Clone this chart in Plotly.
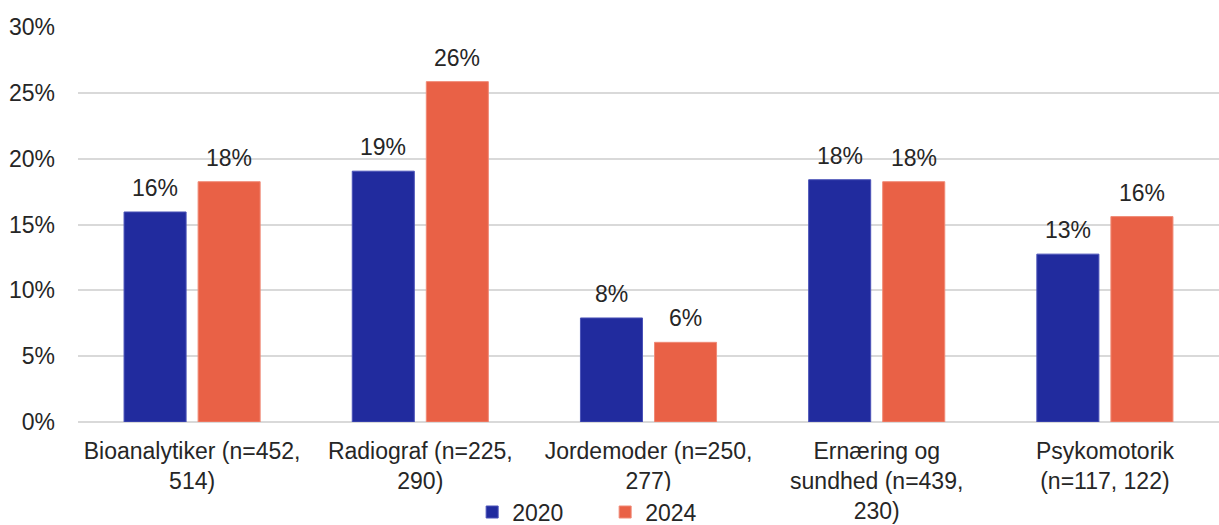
import plotly.graph_objects as go

categories = [
    "Bioanalytiker (n=452,<br>514)",
    "Radiograf (n=225,<br>290)",
    "Jordemoder (n=250,<br>277)",
    "Ernæring og<br>sundhed (n=439,<br>230)",
    "Psykomotorik<br>(n=117, 122)",
]
values_2020 = [15.95, 19.05, 7.9, 18.4, 12.75]
values_2024 = [18.25, 25.85, 6.05, 18.25, 15.6]
series_names = ["2020", "2024"]
colors = ["#212B9E", "#E96146"]
outline = ["#4a52b8", "#f08a76"]

FONT = "Liberation Sans, Arial, sans-serif"
TXT = "#262626"
FS = 23

fig = go.Figure()
shifts = [-37, 37]
for name, vals, c, oc, sh in zip(series_names, [values_2020, values_2024], colors, outline, shifts):
    fig.add_trace(go.Bar(
        x=categories, y=vals, name=name,
        marker=dict(color=c, line=dict(color=oc, width=1)),
    ))
    for cat, v in zip(categories, vals):
        fig.add_annotation(
            x=cat, y=v, xref="x", yref="y", text=f"{round(v):.0f}%",
            showarrow=False, xshift=sh, yshift=24, yanchor="middle",
            font=dict(family=FONT, size=FS, color=TXT),
        )

fig.update_layout(
    width=1219, height=525,
    margin=dict(l=78, r=0, t=27, b=103, autoexpand=False),
    paper_bgcolor="white", plot_bgcolor="white",
    barmode="group", bargap=0.351, bargroupgap=0.162,
    font=dict(family=FONT, size=FS, color=TXT),
    showlegend=True,
    legend=dict(orientation="h", x=0.462, xanchor="center", y=-0.228, yanchor="middle",
                font=dict(family=FONT, size=FS, color=TXT),
                entrywidth=88, entrywidthmode="pixels", itemwidth=30,
                traceorder="normal", borderwidth=0),
)
fig.update_yaxes(
    range=[0, 30], tickvals=[0, 5, 10, 15, 20, 25, 30],
    ticktext=["0%", "5%", "10%", "15%", "20%", "25%", "30%"],
    showgrid=True, gridcolor="#d9d9d9", gridwidth=1.5,
    zeroline=True, zerolinecolor="#d9d9d9", zerolinewidth=1.5,
    showline=False, ticks="", ticklabelstandoff=22, automargin=False,
    tickfont=dict(family=FONT, size=FS, color=TXT),
)
fig.update_xaxes(
    showline=False, ticks="", showgrid=False, automargin=False,
    tickfont=dict(family=FONT, size=FS, color=TXT),
    tickangle=0, ticklabelstandoff=13,
)

fig.write_html("out.html", config={"displayModeBar": False},
               post_script="document.body.style.margin='0';document.body.style.padding='0';")
